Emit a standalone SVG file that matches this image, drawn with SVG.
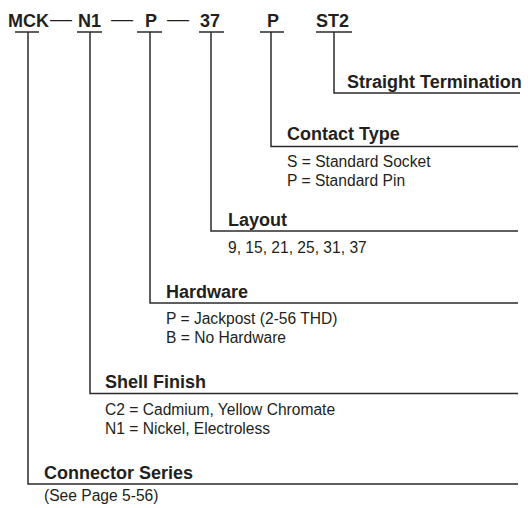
<svg xmlns="http://www.w3.org/2000/svg" width="528" height="508" viewBox="0 0 528 508">
<style>
.code{font-family:"Liberation Sans",Arial,sans-serif;font-weight:bold;font-size:18px;fill:#231f20}
.dash{font-family:"Liberation Sans",Arial,sans-serif;font-size:18px;fill:#231f20}
.title{font-family:"Liberation Sans",Arial,sans-serif;font-weight:bold;font-size:18px;fill:#231f20}
.desc{font-family:"Liberation Sans",Arial,sans-serif;font-size:15.6px;fill:#231f20}
.ln{stroke:#2b2b2b;stroke-width:1.5;fill:none}
</style>
<rect width="528" height="508" fill="#fff"/>
<g id="code">
<g id="code-mck"><text class="code" x="8" y="26.5">MCK</text><text class="dash" x="50" y="24.5" textLength="22" lengthAdjust="spacingAndGlyphs">—</text></g>
<g id="code-n1"><text class="code" x="78" y="26.5">N1</text><text class="dash" x="111" y="24.5" textLength="22" lengthAdjust="spacingAndGlyphs">—</text></g>
<g id="code-p"><text class="code" x="145" y="26.5">P</text><text class="dash" x="167" y="24.5" textLength="22" lengthAdjust="spacingAndGlyphs">—</text></g>
<g id="code-37"><text class="code" x="200" y="26.5">37</text></g>
<g id="code-p2"><text class="code" x="267" y="26.5">P</text></g>
<g id="code-st2"><text class="code" x="316" y="26.5">ST2</text></g>
</g>
<g id="connectors">
<path class="ln" d="M15 32H39M28 32V484H518"/>
<path class="ln" d="M77 32H102M90 32V393.5H518"/>
<path class="ln" d="M137 32H162M150 32V303H518"/>
<path class="ln" d="M199 32H224M211 32V231H518"/>
<path class="ln" d="M260 32H284M271 32V146.5H518"/>
<path class="ln" d="M316 32H352M334 32V93H520"/>
</g>
<g id="straight-termination"><text class="title" x="347" y="88">Straight Termination</text></g>
<g id="contact-type"><text class="title" x="287" y="140">Contact Type</text>
<text class="desc" x="287" y="167">S = Standard Socket</text>
<text class="desc" x="287" y="186">P = Standard Pin</text></g>
<g id="layout"><text class="title" x="228" y="226">Layout</text>
<text class="desc" x="228" y="253">9, 15, 21, 25, 31, 37</text></g>
<g id="hardware"><text class="title" x="166" y="298">Hardware</text>
<text class="desc" x="166" y="324">P = Jackpost (2-56 THD)</text>
<text class="desc" x="166" y="343">B = No Hardware</text></g>
<g id="shell-finish"><text class="title" x="105" y="388">Shell Finish</text>
<text class="desc" x="105" y="415">C2 = Cadmium, Yellow Chromate</text>
<text class="desc" x="105" y="433.5">N1 = Nickel, Electroless</text></g>
<g id="connector-series"><text class="title" x="44" y="479">Connector Series</text>
<text class="desc" x="44" y="501">(See Page 5-56)</text></g>
</svg>
